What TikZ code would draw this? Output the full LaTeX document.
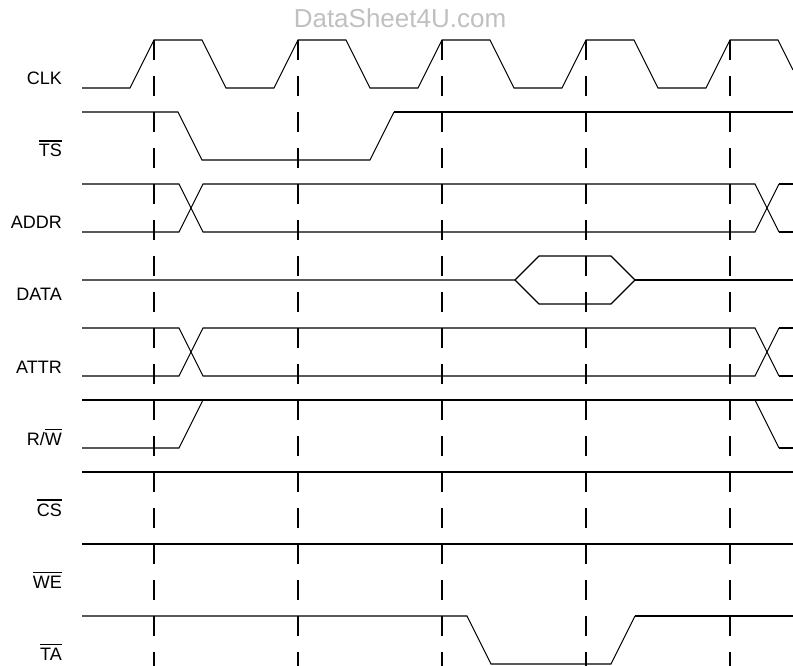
\documentclass[tikz,border=0pt]{standalone}
\usepackage{fontspec}
\setmainfont{Liberation Sans}
\usepackage{tikz}
\definecolor{markgray}{RGB}{192,192,192}
\newcommand{\lowact}[1]{\leavevmode\vbox{\hrule height 1.4pt\kern 2.6pt\hbox{#1}}}

\begin{document}
\begin{tikzpicture}[
  x=1pt, y=-1pt,
  lab/.style={anchor=base east,inner sep=0pt,font=\fontsize{18}{22}\selectfont},
  sig/.style={line width=1.1pt,line join=miter},
  sigbold/.style={line width=2pt},
  tick/.style={line width=2.2pt,dash pattern=on 20pt off 16pt}
]
\useasboundingbox (0,0) rectangle (793,666);
\node[anchor=base,inner sep=0pt,text=markgray,font=\fontsize{26}{30}\selectfont] (mark) at (400,28) {DataSheet4U.com};

\node[lab] (clk)  at (62,85)  {CLK};
\node[lab] (ts)   at (62,157) {\lowact{TS}};
\node[lab] (addr) at (62,229) {ADDR};
\node[lab] (data) at (62,300) {DATA};
\node[lab] (attr) at (62,373) {ATTR};
\node[lab] (rw)   at (62,445) {R/\lowact{W}};
\node[lab] (cs)   at (62,516) {\lowact{CS}};
\node[lab] (we)   at (62,588) {\lowact{WE}};
\node[lab] (ta)   at (62,660) {\lowact{TA}};

\draw[tick] (154,40) -- (154,666);
\draw[tick] (298,40) -- (298,666);
\draw[tick] (442,40) -- (442,666);
\draw[tick] (586,40) -- (586,666);
\draw[tick] (730,40) -- (730,666);

\draw[sig] (82,88) -- (130,88) -- (154,40) -- (202,40) -- (226,88) -- (274,88)
  -- (298,40) -- (346,40) -- (370,88) -- (418,88) -- (442,40) -- (490,40)
  -- (514,88) -- (562,88) -- (586,40) -- (634,40) -- (658,88) -- (706,88)
  -- (730,40) -- (778,40) -- (793,70);

\draw[sig] (82,112) -- (178,112) -- (202,160) -- (370,160) -- (394,112);
\draw[sigbold] (394,112) -- (793,112);

\draw[sig] (82,184) -- (179,184) -- (203,232) -- (755,232) -- (779,184);
\draw[sig] (82,232) -- (179,232) -- (203,184) -- (755,184) -- (779,232);
\draw[sigbold] (779,184) -- (793,184);
\draw[sigbold] (779,232) -- (793,232);

\draw[sig] (82,280) -- (515,280) -- (539,256) -- (611,256) -- (635,280)
  -- (611,304) -- (539,304) -- (515,280);
\draw[sigbold] (635,280) -- (793,280);

\draw[sig] (82,328) -- (179,328) -- (203,376) -- (755,376) -- (779,328);
\draw[sig] (82,376) -- (179,376) -- (203,328) -- (755,328) -- (779,376);
\draw[sigbold] (779,328) -- (793,328);
\draw[sigbold] (779,376) -- (793,376);

\draw[sigbold] (82,400) -- (793,400);
\draw[sig] (82,448) -- (179,448) -- (203,400);
\draw[sig] (755,400) -- (779,448);
\draw[sigbold] (779,448) -- (793,448);

\draw[sigbold] (82,472) -- (793,472);

\draw[sigbold] (82,544) -- (793,544);

\draw[sig] (82,616) -- (467,616) -- (491,664) -- (611,664) -- (635,616);
\draw[sigbold] (635,616) -- (793,616);
\end{tikzpicture}
\end{document}
